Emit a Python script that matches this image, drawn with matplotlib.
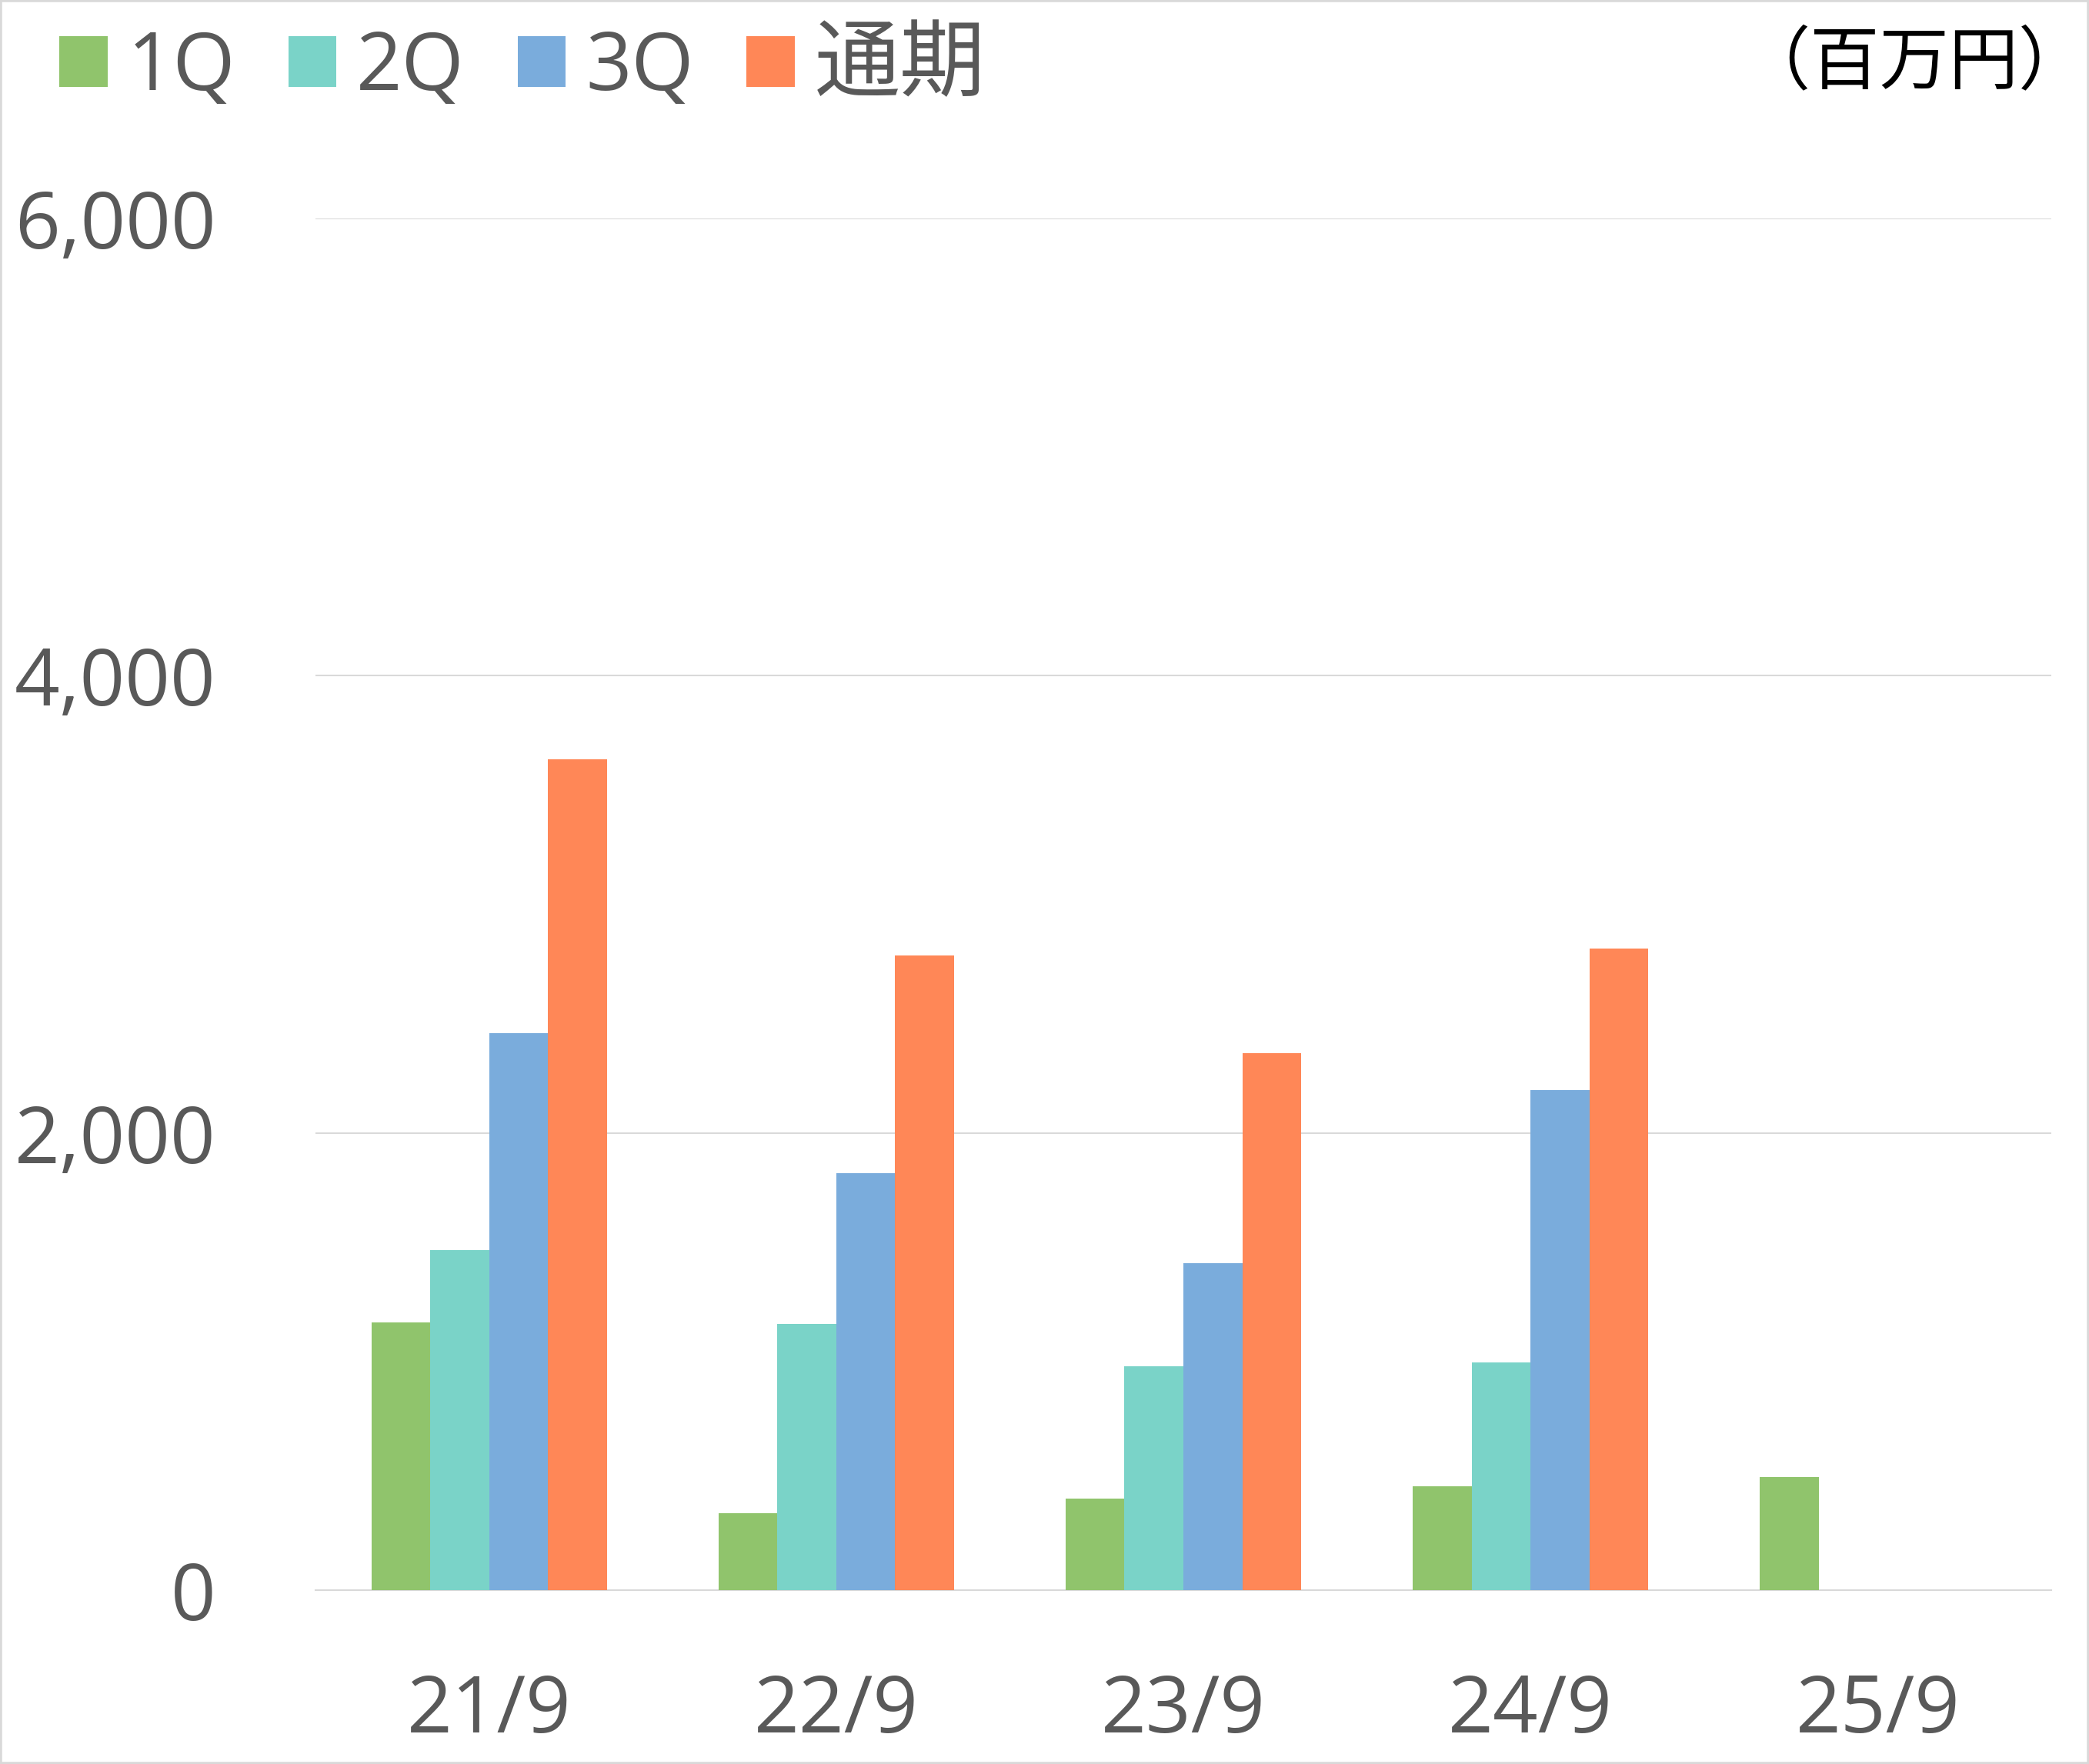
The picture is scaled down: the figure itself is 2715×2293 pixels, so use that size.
import matplotlib
matplotlib.use("Agg")
import matplotlib.pyplot as plt
import numpy as np
from matplotlib.patches import Rectangle

categories = ["21/9", "22/9", "23/9", "24/9", "25/9"]
series_names = ["1Q", "2Q", "3Q", "通期"]
q1 = [1171, 337, 402, 455, 496]
q2 = [1487, 1164, 980, 997, np.nan]
q3 = [2436, 1824, 1429, 2187, np.nan]
full = [3634, 2776, 2350, 2805, np.nan]
colors = ["#90C46C", "#7AD3C8", "#7AACDC", "#FF8757"]
yticks = [0, 2000, 4000, 6000]
ytick_labels = ["0", "2,000", "4,000", "6,000"]
unit_label = "（百万円）"

FONT = ["Open Sans", "Noto Sans CJK JP", "DejaVu Sans"]
plt.rcParams["font.family"] = FONT
TXT = "#595959"

W, H = 2715, 2293
fig = plt.figure(figsize=(W / 100, H / 100), dpi=100)
ax = fig.add_axes([410 / W, 1 - 2067 / H, (2666 - 410) / W, (2067 - 284) / H])

x = np.arange(len(categories))
bw = 0.1696
series = [q1, q2, q3, full]
handles = []
for i, (vals, c) in enumerate(zip(series, colors)):
    b = ax.bar(x + (i - 1.5) * bw, vals, width=bw, color=c, linewidth=0, zorder=3,
               label=series_names[i])
    handles.append(b)

ax.set_xlim(-0.5, len(categories) - 0.5)
ax.set_ylim(0, 6000)
ax.set_yticks(yticks)
ax.set_yticklabels(ytick_labels)
ax.set_xticks(x)
ax.set_xticklabels(categories)
ax.tick_params(axis="both", length=0, labelsize=74, colors=TXT)
ax.tick_params(axis="y", pad=93)
ax.tick_params(axis="x", pad=77)
ax.grid(axis="y", color="#D9D9D9", linewidth=1.5, zorder=0)
for s in ["left", "right", "top"]:
    ax.spines[s].set_visible(False)
ax.spines["bottom"].set_color("#D9D9D9")
ax.spines["bottom"].set_linewidth(1.5)
ax.spines["bottom"].set_zorder(2)

leg = fig.legend(handles=handles, labels=series_names, loc="upper left",
                 bbox_to_anchor=(77 / W, 1 - 32 / H), ncol=4, frameon=False,
                 fontsize=75, handlelength=0.6, handleheight=0.6,
                 handletextpad=0.25, columnspacing=0.66, borderpad=0,
                 borderaxespad=0)
for t in leg.get_texts():
    t.set_color(TXT)
leg.get_texts()[3].set_fontsize(80)

fig.text(2488 / W, 1 - 83 / H, unit_label, ha="center", va="center",
         fontsize=65, color="black", family=["Noto Sans CJK JP", "DejaVu Sans"])

fig.add_artist(Rectangle((0, 0), 1, 1, transform=fig.transFigure, fill=False,
                         edgecolor="#D9D9D9", linewidth=4))

fig.savefig("out.png", dpi=100, facecolor="white")
